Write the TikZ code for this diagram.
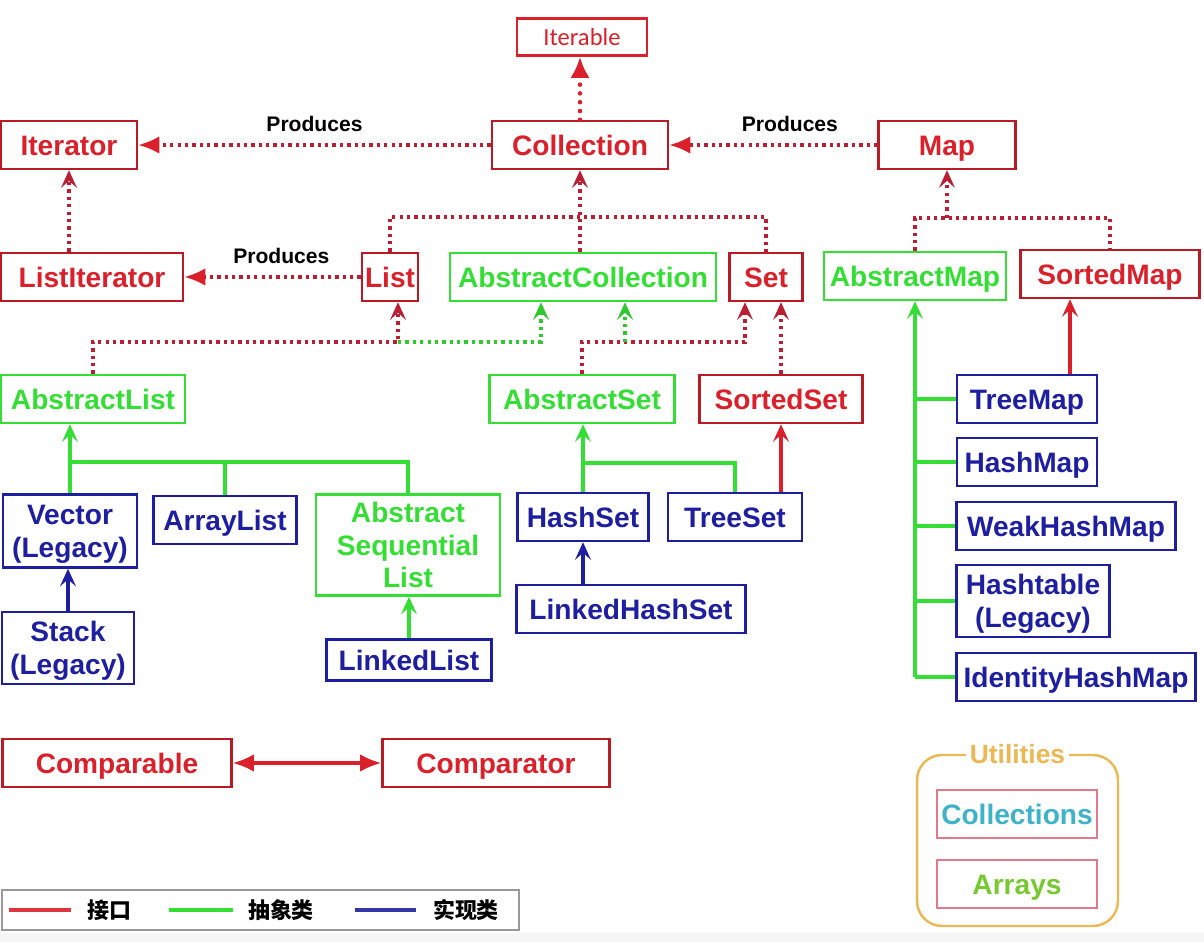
\documentclass[tikz,border=0pt]{standalone}
\usepackage{fontspec}
\setmainfont{Liberation Sans}
\newfontfamily\cjk{Noto Sans CJK SC}
\newfontfamily\calib{Carlito}
\usepackage{tikz}
\usetikzlibrary{arrows.meta}
\definecolor{ifred}{RGB}{218,32,42}
\definecolor{dotred}{RGB}{185,30,50}
\definecolor{absgreen}{RGB}{52,222,52}
\definecolor{implblue}{RGB}{30,30,160}
\definecolor{utilgold}{RGB}{236,184,84}
\definecolor{utilpink}{RGB}{226,120,140}
\definecolor{utilteal}{RGB}{62,178,200}
\definecolor{utilolive}{RGB}{120,200,50}

\begin{document}
\begin{tikzpicture}[x=0.02cm, y=-0.02cm,
  box/.style={draw, line width=1.4pt, inner sep=1pt, align=center, minimum height=0.96cm,
    text height=11.6pt, text depth=0pt, font=\bfseries\fontsize{16}{18.5}\selectfont},
  tall/.style={text height=#1},
  iface/.style={box, draw=ifred!85!black, text=ifred},
  absc/.style={box, draw=absgreen, text=absgreen},
  impl/.style={box, draw=implblue, text=implblue},
  prod/.style={font=\bfseries\fontsize{12}{14}\selectfont, text=black, above=3pt},
  ifdot/.style={draw=dotred, line width=1.9pt, dash pattern=on 1.9pt off 2.3pt},
  absdot/.style={draw=absgreen!90!black, line width=1.9pt, dash pattern=on 1.9pt off 2.3pt},
  ifline/.style={draw=ifred, line width=1.8pt},
  absline/.style={draw=absgreen, line width=1.8pt},
  implline/.style={draw=implblue, line width=1.8pt},
  >={Stealth[length=10pt, width=9pt, inset=4pt]}]
\useasboundingbox (0,0) rectangle (1204,942);
\fill[gray!7] (0,933) rectangle (1204,942);

\node[draw=ifred, line width=1.4pt, text=ifred, minimum width=2.6cm, minimum height=0.74cm,
  font=\calib\fontsize{14}{16}\selectfont] (iterable) at (582,37) {Iterable};
\node[iface, minimum width=2.72cm] (iterator) at (69,145) {Iterator};
\node[iface, minimum width=3.52cm] (coll) at (580,145) {Collection};
\node[iface, minimum width=2.74cm] (map) at (947,145) {Map};
\node[iface, minimum width=3.64cm] (listit) at (92,277) {ListIterator};
\node[iface, minimum width=1.12cm] (list) at (390,277) {List};
\node[absc, minimum width=5.32cm] (abscoll) at (583,277) {AbstractCollection};
\node[iface, minimum width=1.46cm] (set) at (766,277) {Set};
\node[absc, minimum width=3.64cm] (absmap) at (915,276) {AbstractMap};
\node[iface, minimum width=3.58cm] (sortedmap) at (1110,274) {SortedMap};

\node[absc, minimum width=3.68cm] (abslist) at (93,399) {AbstractList};
\node[absc, minimum width=3.7cm] (absset) at (582,399) {AbstractSet};
\node[iface, minimum width=3.26cm] (sortedset) at (781,399) {SortedSet};

\node[impl, minimum width=2.8cm] (treemap) at (1027,399) {TreeMap};
\node[impl, minimum width=2.8cm] (hashmap) at (1027,462) {HashMap};
\node[impl, minimum width=4.38cm] (weakhashmap) at (1066,526) {WeakHashMap};
\node[impl, tall=30.1pt, minimum width=3.06cm, minimum height=1.44cm] (hashtable) at (1033,601) {Hashtable\\(Legacy)};
\node[impl, minimum width=4.78cm] (identity) at (1076,677) {IdentityHashMap};

\node[impl, tall=30.1pt, minimum width=2.68cm, minimum height=1.46cm] (vector) at (70,531) {Vector\\(Legacy)};
\node[impl, minimum width=2.86cm] (arraylist) at (225,520) {ArrayList};
\node[absc, tall=48.6pt, minimum width=3.68cm, minimum height=2.02cm] (absseq) at (408,545) {Abstract\\Sequential\\List};
\node[impl, tall=30.1pt, minimum width=2.64cm, minimum height=1.44cm] (stack) at (68,648) {Stack\\(Legacy)};
\node[impl, minimum width=3.3cm, minimum height=0.82cm] (linkedlist) at (409,660) {LinkedList};
\node[impl, minimum width=2.62cm] (hashset) at (583,517) {HashSet};
\node[impl, minimum width=2.68cm] (treeset) at (735,517) {TreeSet};
\node[impl, minimum width=4.58cm] (linkedhashset) at (631,609) {LinkedHashSet};

\node[iface, minimum width=4.58cm] (comparable) at (117,763) {Comparable};
\node[iface, minimum width=4.54cm] (comparator) at (496,763) {Comparator};

\node[draw=utilgold, line width=1.4pt, rounded corners=0.5cm, minimum width=4.02cm,
  minimum height=3.42cm] (utilbox) at (1017.5,840.5) {};
\node[fill=white, inner sep=2pt, text=utilgold, font=\bfseries\fontsize{15}{17}\selectfont]
  (utiltitle) at (utilbox.north) {Utilities};
\node[box, draw=utilpink, text=utilteal, minimum width=3.2cm] (collections) at (1017,814) {Collections};
\node[box, draw=utilpink, text=utilolive, minimum width=3.2cm] (arrays) at (1017,884) {Arrays};

\coordinate (cj) at (580,217);
\coordinate (mj) at (947,218);
\coordinate (lj) at (398,342);
\coordinate (ac1) at (541,342);
\coordinate (ac2) at (625,342);
\coordinate (sj) at (745,342);
\coordinate (vj) at (70,462);
\coordinate (hj) at (583,463);

\draw[draw=ifred, line width=2.6pt, line cap=round, dash pattern=on 0pt off 5pt,
  -{Latex[length=12pt, width=11pt, fill=ifred, line cap=butt]}] (coll.north) -- (coll.north |- iterable.south);
\draw[ifdot, -{Latex[length=12pt, width=10pt, fill=ifred, color=ifred]}] (coll) -- (iterator) node[prod, midway] {Produces};
\draw[ifdot, -{Latex[length=12pt, width=10pt, color=ifred]}] (map) -- (coll) node[prod, pos=0.42] {Produces};
\draw[ifdot, -{Latex[length=12pt, width=10pt, color=ifred]}] (list) -- (listit) node[prod, pos=0.45] {Produces};
\draw[ifdot, ->] (listit.north -| iterator.south) -- (iterator.south);

\draw[ifdot] (list.north) |- (cj) -| (set.north);
\draw[ifdot, ->] (abscoll.north -| cj) -- (coll.south);
\draw[ifdot] (absmap.north) |- (mj) -| (sortedmap.north);
\draw[ifdot, ->] (mj) -- (map.south);

\draw[ifdot, ->] (abslist.north) |- (lj) -- (lj |- list.south);
\draw[absdot, ->] (lj) -- (ac1) -- (ac1 |- abscoll.south);
\draw[ifdot, ->] (absset.north) |- (sj) -- (sj |- set.south);
\draw[absdot, ->] (ac2) -- (ac2 |- abscoll.south);
\draw[ifdot, ->] (sortedset.north) -- (sortedset.north |- set.south);

\draw[absline, ->] (vector.north) -- (vector.north |- abslist.south);
\draw[absline] (vj) -| (arraylist.north);
\draw[absline] (vj) -| (absseq.north);
\draw[implline, ->] (stack.north) -- (stack.north |- vector.south);
\draw[absline, ->] (linkedlist.north) -- (linkedlist.north |- absseq.south);

\draw[absline, ->] (hashset.north) -- (hashset.north |- absset.south);
\draw[absline] (hj) -| (treeset.north);
\draw[ifline, ->] (treeset.north -| sortedset.south) -- (sortedset.south);
\draw[implline, ->] (linkedhashset.north -| hashset.south) -- (hashset.south);

\draw[absline, ->] (identity.west -| absmap.south) -- (absmap.south);
\foreach \m in {treemap, hashmap, weakhashmap, hashtable, identity}{
\draw[absline] (\m.west) -- (\m.west -| absmap.south);}
\draw[ifline, ->] ([xshift=0.86cm]treemap.north) -- ([xshift=0.86cm]treemap.north |- sortedmap.south);

\draw[ifline, {Latex[length=12pt, width=10pt]}-{Latex[length=12pt, width=10pt]}] (comparable) -- (comparator);

\node[draw=gray!80, line width=1.2pt, minimum width=10.34cm, minimum height=0.8cm] (legend) at (260.5,910) {};
\draw[ifred!90, line width=2pt] (9,910) -- (71,910);
\draw[absgreen, line width=2pt] (169,910) -- (233,910);
\draw[implblue!90, line width=2pt] (355,910) -- (416,910);
\node[font=\cjk\bfseries\fontsize{12.5}{14}\selectfont] (lgif) at (109,910) {接口};
\node[font=\cjk\bfseries\fontsize{12.5}{14}\selectfont] (lgabs) at (281,910) {抽象类};
\node[font=\cjk\bfseries\fontsize{12.5}{14}\selectfont] (lgimpl) at (466,910) {实现类};
\end{tikzpicture}
\end{document}
